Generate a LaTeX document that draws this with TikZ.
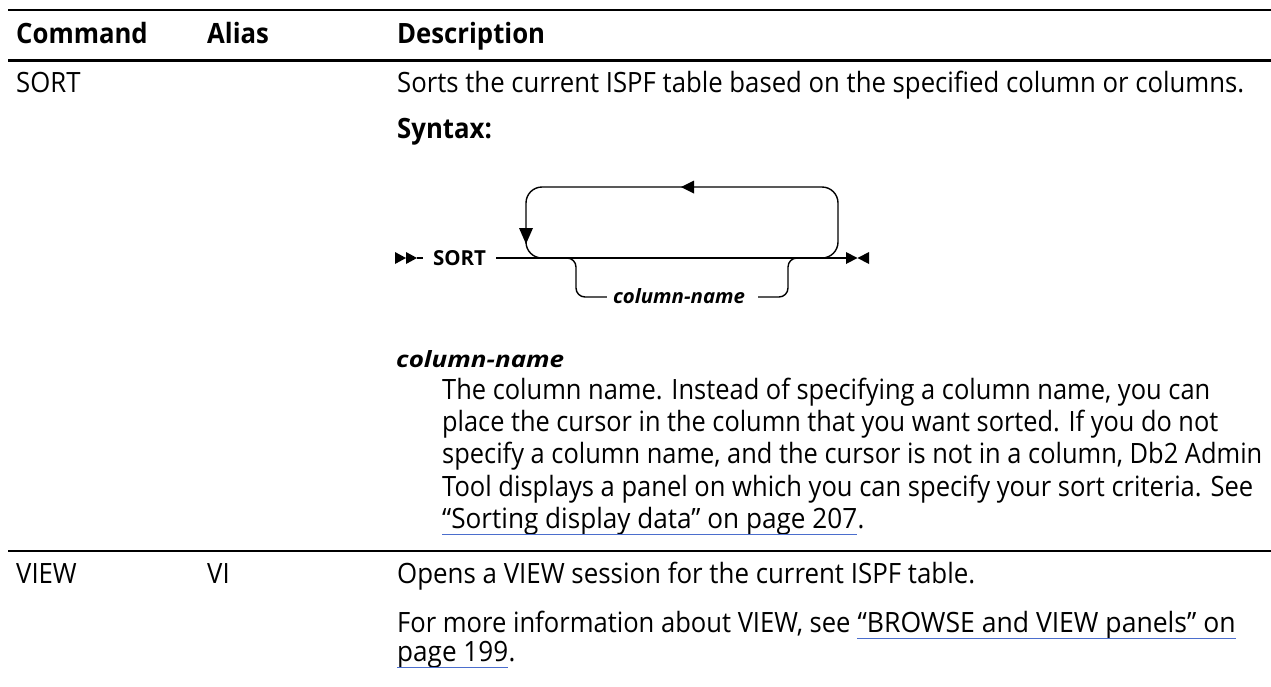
\documentclass[tikz,border=0pt]{standalone}
\usepackage{fontspec}
\setmainfont[FakeStretch=0.92]{Open Sans}
\usepackage{graphicx}
\definecolor{linkblue}{RGB}{75,110,205}
\newlength\reflen
\newcommand\fitw[2]{\resizebox{#1}{\height}{#2}}
\tikzset{
  body/.style={font=\bodyfont, inner sep=0pt, anchor=base west},
  head/.style={font=\bodyfont\bfseries, inner sep=0pt, anchor=base west},
  rulethin/.style={line width=2pt},
  rulethick/.style={line width=3pt},
  dl/.style={line width=1.4pt},
  link/.style={draw=linkblue, line width=1pt},
  lbl/.style={anchor=center, inner ysep=0pt}
}
\begin{document}
\settowidth\reflen{\fontsize{10pt}{12pt}\selectfont Sorts the current ISPF table based on the specified column or columns.}%
\pgfmathsetmacro\bsz{10*847/\reflen}%
\edef\bodyfont{\noexpand\fontsize{\bsz pt}{\bsz pt}\noexpand\selectfont}%
\begin{tikzpicture}[x=1pt,y=-1pt]
\useasboundingbox[fill=white] (0,0) rectangle (1271,686);

% rules
\coordinate (r1l) at (8,10);  \coordinate (r1r) at (1271,10);
\coordinate (r2l) at (8,60);  \coordinate (r2r) at (1271,60);
\coordinate (r3l) at (8,551); \coordinate (r3r) at (1271,551);
\draw[rulethin] (r1l) -- (r1r);
\draw[rulethick] (r2l) -- (r2r);
\draw[rulethin] (r3l) -- (r3r);

% header
\node[head] (hcmd) at (16,43) {Command};
\node[head] (halias) at (207,43) {Alias};
\node[head] (hdesc) at (397,43) {Description};

% row SORT
\node[body] (c1) at (16,92) {SORT};
\node[body] (d1) at (397,92) {Sorts the current ISPF table based on the specified column or columns.};
\node[head] (syn) at (397,138) {Syntax:};

% syntax diagram
\fill (395,252) -- (406,258) -- (395,264) -- cycle;
\fill (406,252) -- (417,258) -- (406,264) -- cycle;
\coordinate (st) at (417,258);
\node[lbl, inner xsep=10pt] (sort) at (459.5,258) {\resizebox{53pt}{15pt}{\bfseries SORT}};
\coordinate (en) at (847,258);
\draw[dl] (st) -- (sort.west);
\draw[dl] (sort.east) -- (en);
\fill (846,252) -- (857.5,258) -- (846,264) -- cycle;
\fill (869,252) -- (857.5,258) -- (869,264) -- cycle;
% repeat loop
\draw[dl, rounded corners=16pt] (548,258) -- (526,258) -- (526,187) -- (838,187) -- (838,258) -- (818,258);
\fill (681,187) -- (694,180.5) -- (694,193.5) -- cycle;
\fill (526,244) -- (519,228) -- (533,228) -- cycle;
% optional branch
\node[lbl, inner xsep=6pt] (cn) at (679,296) {\resizebox{132pt}{15pt}{\bfseries\itshape column-name}};
\draw[dl, rounded corners=9pt] (566,258) -- (576,258) -- (576,297) -- ([yshift=-1pt]cn.west);
\draw[dl, rounded corners=9pt] ([xshift=7pt,yshift=-1pt]cn.east) -- (788,297) -- (788,258) -- (798,258);

% parameter description
\node[body] (cnh) at (396,367) {\resizebox{168pt}{17pt}{\bfseries\itshape column-name}};
\node[body] (p1) at (442,399) {\fitw{768pt}{The column name. Instead of specifying a column name, you can}};
\node[body] (p2) at (442,431) {\fitw{776pt}{place the cursor in the column that you want sorted. If you do not}};
\node[body] (p3) at (442,463) {\fitw{820pt}{specify a column name, and the cursor is not in a column, Db2 Admin}};
\node[body] (p4) at (442,496) {\fitw{811pt}{Tool displays a panel on which you can specify your sort criteria. See}};
\node[body] (p5) at (442,528) {\fitw{415pt}{“Sorting display data” on page 207}};
\node[body] (p5d) at (p5.base east) {.};
\draw[link] ([yshift=-6pt]p5.base west) -- ([yshift=-6pt]p5.base east);

% row VIEW
\node[body] (c2) at (16,583) {VIEW};
\node[body] (a2) at (207,583) {VI};
\node[body] (d2) at (397,583) {\fitw{578pt}{Opens a VIEW session for the current ISPF table.}};
\node[body] (m1) at (397,632) {\fitw{460pt}{For more information about VIEW, see\ \mbox{}}};
\node[body] (m2) at (m1.base east) {\fitw{378pt}{“BROWSE and VIEW panels” on}};
\node[body] (m3) at (397,661) {\fitw{111pt}{page 199}};
\node[body] (m3d) at (m3.base east) {.};
\draw[link] ([yshift=-6pt]m2.base west) -- ([yshift=-6pt]m2.base east);
\draw[link] ([yshift=-6pt]m3.base west) -- ([yshift=-6pt]m3.base east);
\end{tikzpicture}
\end{document}
